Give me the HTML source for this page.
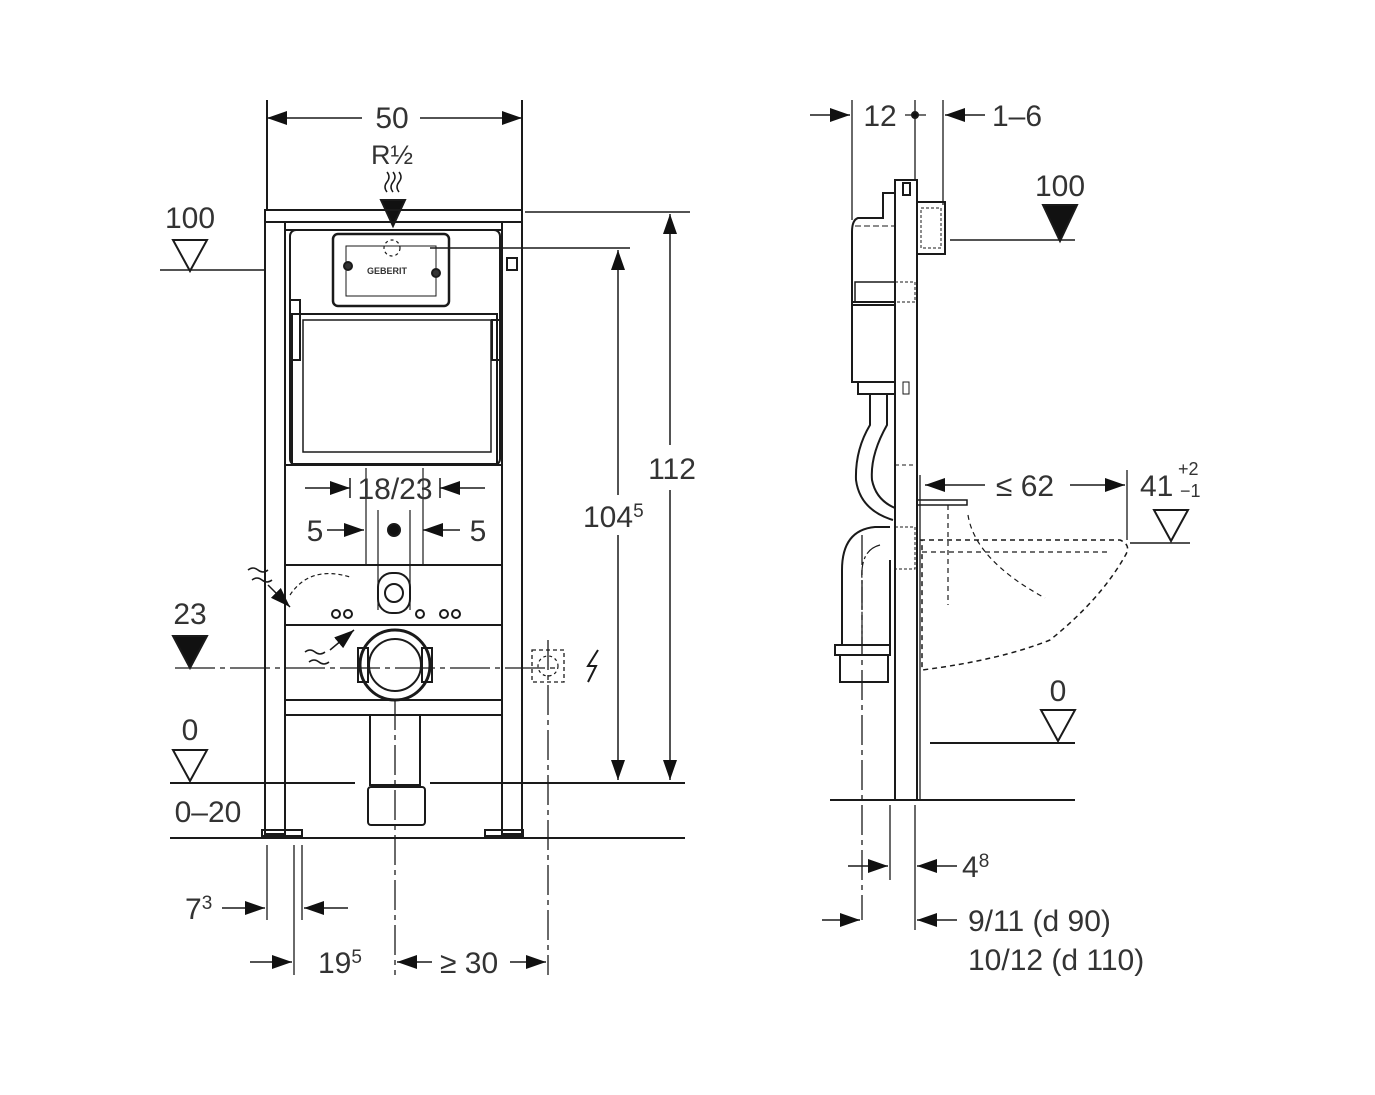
<!DOCTYPE html>
<html><head><meta charset="utf-8"><style>
html,body{margin:0;padding:0;background:#fff}
svg{display:block}
text{font-family:"Liberation Sans",sans-serif;fill:#333}
</style></head><body>
<svg width="1375" height="1095" viewBox="0 0 1375 1095" xmlns="http://www.w3.org/2000/svg">
<defs>
<marker id="a" viewBox="0 0 20 14" refX="20" refY="7" markerWidth="20" markerHeight="14" orient="auto-start-reverse" markerUnits="userSpaceOnUse"><path d="M0,0L20,7L0,14z" fill="#111"/></marker>
</defs>
<g stroke="#1a1a1a" stroke-width="2" fill="none">
<!-- ===== LEFT DRAWING ===== -->
<line x1="267" y1="100" x2="267" y2="210"/><line x1="522" y1="100" x2="522" y2="210"/>
<line x1="267" y1="118" x2="362" y2="118" marker-start="url(#a)" stroke-width="1.5"/>
<line x1="420" y1="118" x2="522" y2="118" marker-end="url(#a)" stroke-width="1.5"/>
<path d="M387,172 q4,5 0,10 q-4,5 0,10 M393,172 q4,5 0,10 q-4,5 0,10 M399,172 q4,5 0,10 q-4,5 0,10" stroke-width="1.5"/>
<path d="M381,200 L405,200 L393,226 z" fill="#111"/>
<rect x="265" y="210" width="257" height="12"/>
<rect x="265" y="222" width="20" height="612"/>
<rect x="502" y="222" width="20" height="612"/>
<line x1="285" y1="230" x2="502" y2="230"/>
<rect x="290" y="230" width="210" height="235" rx="6"/>
<rect x="333" y="234" width="116" height="72" rx="5" stroke-width="2.5"/>
<rect x="346" y="246" width="90" height="50" stroke-width="1"/>
<circle cx="392" cy="248" r="8" stroke-dasharray="3,3" stroke-width="1.2"/>
<circle cx="348" cy="266" r="4" fill="#333"/><circle cx="436" cy="273" r="4" fill="#333"/>
<text x="367" y="274" font-size="9" stroke="none" font-weight="bold">GEBERIT</text>
<rect x="292" y="314" width="205" height="150"/>
<rect x="303" y="320" width="188" height="132" stroke-width="1.5"/>
<rect x="290" y="300" width="10" height="60"/><rect x="492" y="320" width="10" height="40"/>
<rect x="507" y="258" width="10" height="12"/>
<line x1="285" y1="465" x2="502" y2="465"/>
<line x1="285" y1="565" x2="502" y2="565"/>
<line x1="285" y1="625" x2="502" y2="625"/>
<line x1="285" y1="700" x2="502" y2="700"/>
<line x1="285" y1="715" x2="502" y2="715"/>
<line x1="430" y1="248" x2="630" y2="248" stroke-width="1.5"/>
<line x1="366" y1="468" x2="366" y2="565" stroke-width="1.2"/><line x1="423" y1="468" x2="423" y2="565" stroke-width="1.2"/>
<line x1="305" y1="488" x2="350" y2="488" marker-end="url(#a)" stroke-width="1.5"/>
<line x1="485" y1="488" x2="440" y2="488" marker-end="url(#a)" stroke-width="1.5"/>
<line x1="350" y1="478" x2="350" y2="498" stroke-width="1.5"/><line x1="440" y1="478" x2="440" y2="498" stroke-width="1.5"/>
<line x1="327" y1="530" x2="364" y2="530" marker-end="url(#a)" stroke-width="1.5"/>
<line x1="460" y1="530" x2="423" y2="530" marker-end="url(#a)" stroke-width="1.5"/>
<line x1="378" y1="510" x2="378" y2="610" stroke-width="1.2"/><line x1="410" y1="510" x2="410" y2="610" stroke-width="1.2"/>
<circle cx="394" cy="530" r="6" fill="#111"/>
<rect x="378" y="573" width="32" height="40" rx="14"/>
<circle cx="394" cy="593" r="9"/>
<circle cx="348" cy="614" r="4"/><circle cx="336" cy="614" r="4"/><circle cx="420" cy="614" r="4"/><circle cx="444" cy="614" r="4"/><circle cx="456" cy="614" r="4"/>
<path d="M290,595 q20,-30 60,-18" stroke-dasharray="4,3" stroke-width="1.2"/>
<circle cx="395" cy="665" r="35" stroke-width="3"/>
<circle cx="395" cy="665" r="26" stroke-width="2"/>
<rect x="358" y="648" width="10" height="34"/><rect x="422" y="648" width="10" height="34"/>
<line x1="175" y1="668" x2="560" y2="668" stroke-width="1.3" stroke-dasharray="40,5,5,5"/>
<rect x="370" y="715" width="50" height="70"/>
<rect x="368" y="787" width="57" height="38" rx="3"/>
<line x1="395" y1="700" x2="395" y2="975" stroke-width="1.3" stroke-dasharray="30,5,5,5"/>
<line x1="170" y1="783" x2="355" y2="783"/><line x1="430" y1="783" x2="685" y2="783"/>
<line x1="170" y1="838" x2="685" y2="838"/>
<rect x="262" y="830" width="40" height="6"/><rect x="485" y="830" width="38" height="6"/>
<line x1="160" y1="270" x2="265" y2="270" stroke-width="1.5"/>
<path d="M173,240 L207,240 L190,271 z"/>
<path d="M173,636 L207,636 L190,668 z" fill="#111"/>
<path d="M173,750 L207,750 L190,781 z"/>
<path d="M248,570 q5,-4 10,0 q5,4 10,0 M252,580 q5,-4 10,0 q5,4 10,0" stroke-width="1.5"/>
<line x1="268" y1="585" x2="290" y2="607" marker-end="url(#a)" stroke-width="1.5"/>
<path d="M305,652 q5,-4 10,0 q5,4 10,0 M309,662 q5,-4 10,0 q5,4 10,0" stroke-width="1.5"/>
<line x1="330" y1="650" x2="354" y2="630" marker-end="url(#a)" stroke-width="1.5"/>
<rect x="532" y="650" width="32" height="32" stroke-dasharray="4,3" stroke-width="1.3"/>
<circle cx="548" cy="666" r="10" stroke-dasharray="3,3" stroke-width="1.2"/>
<path d="M598,650 l-10,16 h8 l-8,16" stroke-width="2"/>
<line x1="548" y1="640" x2="548" y2="975" stroke-width="1.3" stroke-dasharray="30,5,5,5"/>
<line x1="618" y1="250" x2="618" y2="780" marker-start="url(#a)" marker-end="url(#a)" stroke-width="1.5"/>
<rect x="590" y="495" width="60" height="40" fill="#fff" stroke="none"/>
<line x1="525" y1="212" x2="690" y2="212" stroke-width="1.5"/>
<line x1="670" y1="214" x2="670" y2="780" marker-start="url(#a)" marker-end="url(#a)" stroke-width="1.5"/>
<rect x="640" y="445" width="65" height="45" fill="#fff" stroke="none"/>
<line x1="267" y1="845" x2="267" y2="920" stroke-width="1.3"/>
<line x1="302" y1="845" x2="302" y2="920" stroke-width="1.3"/>
<line x1="294" y1="845" x2="294" y2="975" stroke-width="1.3"/>
<line x1="222" y1="908" x2="265" y2="908" marker-end="url(#a)" stroke-width="1.5"/>
<line x1="348" y1="908" x2="304" y2="908" marker-end="url(#a)" stroke-width="1.5"/>
<line x1="250" y1="962" x2="292" y2="962" marker-end="url(#a)" stroke-width="1.5"/>
<line x1="397" y1="962" x2="432" y2="962" marker-start="url(#a)" stroke-width="1.5"/>
<line x1="510" y1="962" x2="546" y2="962" marker-end="url(#a)" stroke-width="1.5"/>

<!-- ===== RIGHT DRAWING ===== -->
<line x1="852" y1="100" x2="852" y2="220" stroke-width="1.3"/>
<line x1="943" y1="100" x2="943" y2="205" stroke-width="1.3"/>
<line x1="915" y1="100" x2="915" y2="180" stroke-width="1.3"/>
<line x1="810" y1="115" x2="850" y2="115" marker-end="url(#a)" stroke-width="1.5"/>
<line x1="985" y1="115" x2="945" y2="115" marker-end="url(#a)" stroke-width="1.5"/>
<line x1="905" y1="115" x2="926" y2="115" stroke-width="1.3"/>
<circle cx="915" cy="115" r="3" fill="#111"/>
<rect x="895" y="180" width="22" height="620"/>
<rect x="903" y="183" width="7" height="12"/>
<rect x="917" y="202" width="28" height="52"/>
<rect x="921" y="208" width="20" height="40" stroke-dasharray="3,2" stroke-width="1"/>
<line x1="950" y1="240" x2="1075" y2="240" stroke-width="1.5"/>
<path d="M1043,205 L1077,205 L1060,241 z" fill="#111"/>
<path d="M895,193 H883 V218 H858 Q852,220 852,232 V305 H895"/>
<line x1="855" y1="226" x2="895" y2="226" stroke-dasharray="6,3" stroke-width="1"/>
<rect x="855" y="282" width="40" height="20" stroke-width="1.5"/>
<rect x="895" y="282" width="20" height="20" stroke-dasharray="3,2" stroke-width="1"/>
<rect x="852" y="302" width="43" height="80"/>
<rect x="858" y="382" width="37" height="12"/>
<rect x="903" y="382" width="6" height="12" stroke-width="1"/>
<path d="M870,394 V425 Q855,450 856,480 Q860,510 893,520" stroke-width="2"/>
<path d="M887,394 V425 Q870,455 872,480 Q876,500 895,508" stroke-width="2"/>
<line x1="895" y1="465" x2="917" y2="465" stroke-dasharray="4,3" stroke-width="1"/>
<rect x="917" y="500" width="50" height="5" stroke-width="1.5"/>
<path d="M890,527 H875 Q842,530 842,570 V645"/>
<path d="M880,545 Q860,550 862,580 V645" stroke-dasharray="16,3,3,3" stroke-width="1.2"/>
<line x1="862" y1="535" x2="862" y2="920" stroke-dasharray="30,5,5,5" stroke-width="1.3"/>
<path d="M890,645 V560"/>
<rect x="835" y="645" width="55" height="10"/>
<rect x="840" y="655" width="48" height="27"/>
<rect x="895" y="527" width="20" height="42" stroke-dasharray="3,2" stroke-width="1"/>
<path d="M920,475 V800" stroke-width="1.3"/>
<path d="M920,540 H1120 Q1132,545 1125,556 Q1100,600 1050,640 Q1000,660 922,670 V540" stroke-dasharray="5,4" stroke-width="1.5"/>
<path d="M922,552 H1110" stroke-dasharray="5,4" stroke-width="1.2"/>
<path d="M948,505 V605" stroke-dasharray="5,4" stroke-width="1.2"/>
<path d="M968,515 Q975,560 1045,598" stroke-dasharray="5,4" stroke-width="1.2"/>
<line x1="925" y1="485" x2="985" y2="485" marker-start="url(#a)" stroke-width="1.5"/>
<line x1="1070" y1="485" x2="1125" y2="485" marker-end="url(#a)" stroke-width="1.5"/>
<line x1="1127" y1="470" x2="1127" y2="540" stroke-width="1.3"/>
<line x1="1130" y1="543" x2="1190" y2="543" stroke-width="1.5"/>
<path d="M1154,510 L1188,510 L1171,541 z"/>
<line x1="930" y1="743" x2="1075" y2="743" stroke-width="2"/>
<path d="M1041,710 L1075,710 L1058,741 z"/>
<line x1="830" y1="800" x2="1075" y2="800"/>
<line x1="890" y1="805" x2="890" y2="880" stroke-width="1.3"/>
<line x1="915" y1="805" x2="915" y2="930" stroke-width="1.3"/>
<line x1="848" y1="866" x2="888" y2="866" marker-end="url(#a)" stroke-width="1.5"/>
<line x1="957" y1="866" x2="917" y2="866" marker-end="url(#a)" stroke-width="1.5"/>
<line x1="822" y1="920" x2="860" y2="920" marker-end="url(#a)" stroke-width="1.5"/>
<line x1="957" y1="920" x2="917" y2="920" marker-end="url(#a)" stroke-width="1.5"/>
</g>
<g font-size="30">
<text x="392" y="128" text-anchor="middle">50</text>
<text x="392" y="164" text-anchor="middle" font-size="27">R½</text>
<text x="190" y="228" text-anchor="middle">100</text>
<text x="190" y="624" text-anchor="middle">23</text>
<text x="190" y="740" text-anchor="middle">0</text>
<text x="208" y="822" text-anchor="middle">0–20</text>
<text x="395" y="499" text-anchor="middle">18/23</text>
<text x="315" y="541" text-anchor="middle">5</text>
<text x="478" y="541" text-anchor="middle">5</text>
<text x="583" y="527">104<tspan font-size="19" dy="-10">5</tspan></text>
<text x="672" y="479" text-anchor="middle">112</text>
<text x="185" y="919">7<tspan font-size="19" dy="-10">3</tspan></text>
<text x="318" y="973">19<tspan font-size="19" dy="-10">5</tspan></text>
<text x="440" y="973">≥ 30</text>
<text x="880" y="126" text-anchor="middle">12</text>
<text x="992" y="126">1–6</text>
<text x="1060" y="196" text-anchor="middle">100</text>
<text x="1025" y="496" text-anchor="middle">≤ 62</text>
<text x="1140" y="496">41</text>
<text x="1178" y="475" font-size="18">+2</text>
<text x="1180" y="497" font-size="18">−1</text>
<text x="1058" y="701" text-anchor="middle">0</text>
<text x="962" y="877">4<tspan font-size="19" dy="-10">8</tspan></text>
<text x="968" y="931">9/11   (d 90)</text>
<text x="968" y="970">10/12 (d 110)</text>
</g>
</svg>
</body></html>
